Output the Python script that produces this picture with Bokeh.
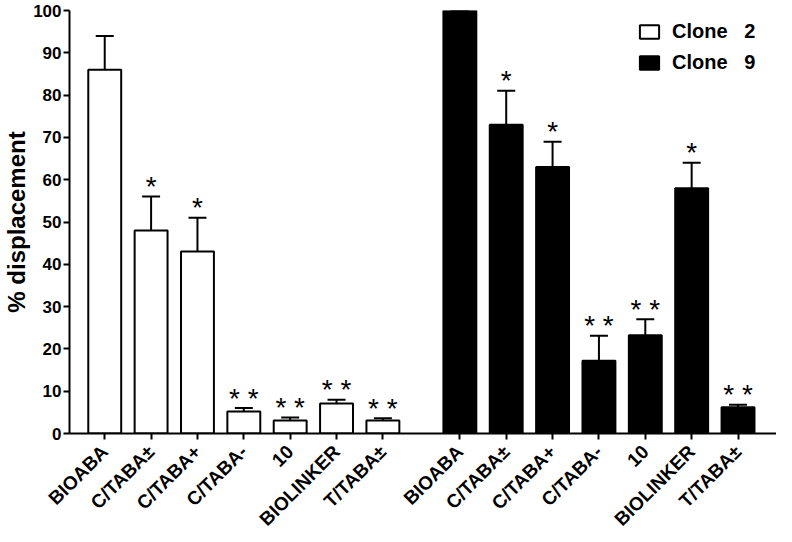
from math import pi
from bokeh.plotting import figure
from bokeh.models import (Range1d, FixedTicker, ColumnDataSource, Whisker, TeeHead,
                          Legend, LegendItem)
from bokeh.core.properties import value
from bokeh.embed import file_html
from bokeh.resources import INLINE

# ---------------- data ----------------
compounds = ["BIOABA", "C/TABA±", "C/TABA+", "C/TABA-", "10", "BIOLINKER", "T/TABA±"]
clone2_mean = [86, 48, 43, 5.2, 3.1, 7.1, 3.1]
clone2_err = [8, 8, 8, 0.8, 0.7, 0.9, 0.5]
clone2_sig = ["", "*", "*", "* *", "* *", "* *", "* *"]
clone9_mean = [100, 73, 63, 17.2, 23.2, 58, 6.2]
clone9_err = [0, 8, 6, 5.9, 3.8, 6, 0.6]
clone9_sig = ["", "*", "*", "* *", "* *", "*", "* *"]
y_ticks = [0, 10, 20, 30, 40, 50, 60, 70, 80, 90, 100]
series_labels = ["Clone   2", "Clone   9"]

# ---------------- layout constants ----------------
GROUP2_START = 7.66
FONT = "Liberation Sans"

x2 = list(range(len(compounds)))
x9 = [GROUP2_START + i for i in range(len(compounds))]

def make_source(xs, means, errs, sig):
    return ColumnDataSource(dict(
        x=xs, top=means, upper=[m + e for m, e in zip(means, errs)], sig=sig))

s2 = make_source(x2, clone2_mean, clone2_err, clone2_sig)
s9 = make_source(x9, clone9_mean, clone9_err, clone9_sig)

p = figure(width=776, height=540, output_backend="svg", toolbar_location=None,
           x_range=Range1d(-0.76, 14.49), y_range=Range1d(0, 100),
           min_border_left=59, min_border_right=0, min_border_top=10, min_border_bottom=100)
p.outline_line_color = None
p.xgrid.visible = False
p.ygrid.visible = False
p.background_fill_color = "white"

for s in (s2, s9):
    w = Whisker(source=s, base="x", lower="top", upper="upper",
                upper_head=TeeHead(size=18, line_width=2, line_color="black"),
                lower_head=None, line_width=2, line_color="black")
    p.add_layout(w)

r2 = p.vbar(x="x", top="top", width=0.71, bottom=0, source=s2,
            fill_color="white", line_color="black", line_width=2)
r9 = p.vbar(x="x", top="top", width=0.71, bottom=0, source=s9,
            fill_color="black", line_color="black", line_width=2)

for s in (s2, s9):
    p.text(x="x", y="upper", text="sig", source=s, text_align="center",
           text_baseline="alphabetic", y_offset=-10, text_font=value(FONT),
           text_font_size="28px", text_color="black")

# axes
ticks = x2 + x9
p.xaxis.ticker = FixedTicker(ticks=ticks)
p.xaxis.major_label_overrides = {t: name for t, name in zip(ticks, compounds + compounds)}
p.xaxis.major_label_orientation = pi / 4
p.yaxis.ticker = FixedTicker(ticks=y_ticks)
p.yaxis.axis_label = "% displacement"

for ax in (p.xaxis[0], p.yaxis[0]):
    ax.axis_line_width = 2
    ax.major_tick_line_width = 2
    ax.major_tick_out = 6
    ax.major_tick_in = 0
    ax.minor_tick_line_color = None
    ax.major_label_text_font = FONT
    ax.major_label_text_font_style = "bold"
    ax.major_label_text_color = "black"
    ax.axis_line_color = "black"
    ax.major_tick_line_color = "black"

p.xaxis.major_label_text_font_size = "19px"
p.xaxis.major_label_standoff = 9
p.yaxis.major_label_text_font_size = "17px"
p.yaxis.major_label_standoff = 2
p.yaxis.axis_label_text_font = FONT
p.yaxis.axis_label_text_font_style = "bold"
p.yaxis.axis_label_text_font_size = "24px"
p.yaxis.axis_label_text_color = "black"
p.yaxis.axis_label_standoff = 0

legend = Legend(items=[LegendItem(label=series_labels[0], renderers=[r2]),
                       LegendItem(label=series_labels[1], renderers=[r9])],
                location=(568, 359), orientation="vertical",
                glyph_width=24, glyph_height=17, label_standoff=11, spacing=8,
                padding=0, margin=0, border_line_color=None, background_fill_alpha=0,
                label_text_font=FONT, label_text_font_style="bold",
                label_text_font_size="20px", label_text_color="black")
p.add_layout(legend)

open("out.html", "w").write(file_html(p, INLINE))
